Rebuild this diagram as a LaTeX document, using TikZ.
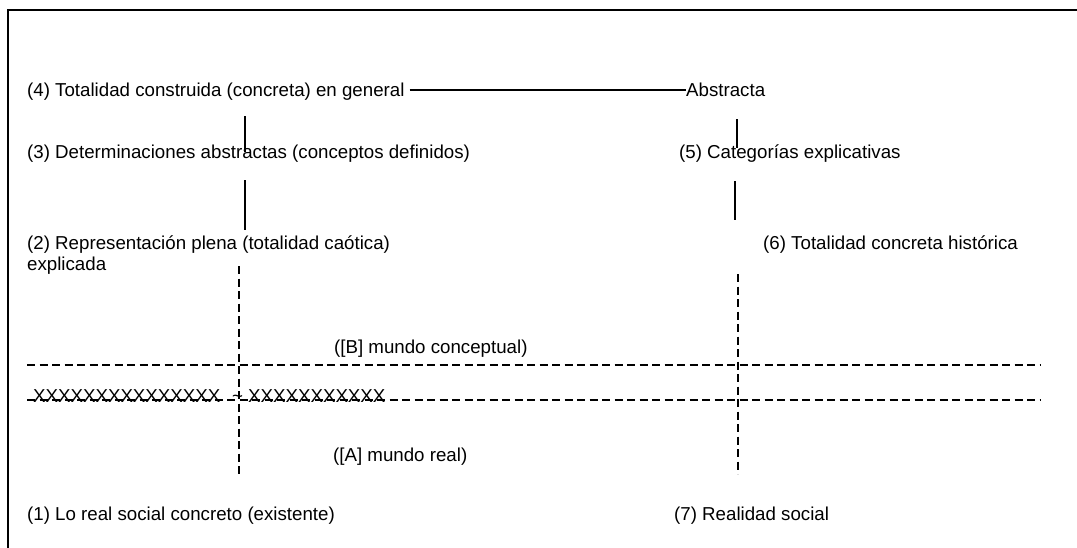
\documentclass[tikz,border=0pt]{standalone}
\usepackage{fontspec}
\setmainfont{Liberation Sans}
\begin{document}
\begin{tikzpicture}[x=1pt,y=-1pt,
  lbl/.style={inner sep=0pt,anchor=base west,font=\fontsize{18.7}{21}\selectfont},
  solidline/.style={draw=black,line width=1.2pt},
  dashline/.style={draw=black,line width=1.2pt,dash pattern=on 8pt off 4.5pt},
  framel/.style={draw=black,line width=1.4pt}]
\useasboundingbox (0,0) rectangle (1077,547);
\fill[white] (0,0) rectangle (1077,547);
% frame
\coordinate (fbl) at (8,548);
\coordinate (ftl) at (8,10);
\coordinate (ftr) at (1078,10);
\draw[framel] (fbl) -- (ftl) -- (ftr);

% texts
\node[lbl] (n4) at (27,96) {(4) Totalidad construida (concreta) en general};
\node[lbl] (abs) at (686,96) {Abstracta};
\node[lbl] (n3) at (27,158) {(3) Determinaciones abstractas (conceptos definidos)};
\node[lbl] (n5) at (679,158) {(5) Categorías explicativas};
\node[lbl] (n2) at (27,249) {(2) Representación plena (totalidad caótica)};
\node[lbl] (n2b) at (27,270) {explicada};
\node[lbl] (n6) at (763,249) {(6) Totalidad concreta histórica};
\node[lbl] (nB) at (334,353) {([B] mundo conceptual)};
\node[lbl] (nA) at (333,461) {([A] mundo real)};
\node[lbl] (n1) at (27,520) {(1) Lo real social concreto (existente)};
\node[lbl] (n7) at (674,520) {(7) Realidad social};

% long rule between (4) and Abstracta
\draw[line width=1.1pt] ([xshift=5pt,yshift=6pt]n4.base east) -- ([yshift=6pt]abs.base west);

% solid vertical segments
\coordinate (la1) at (245,116);
\coordinate (la2) at (245,152);
\coordinate (lb1) at (245,180);
\coordinate (lb2) at (245,230);
\coordinate (ra1) at (737,119);
\coordinate (ra2) at (737,148);
\coordinate (rb1) at (735,181);
\coordinate (rb2) at (735,220);
\draw[solidline] (la1) -- (la2);
\draw[solidline] (lb1) -- (lb2);
\draw[solidline] (ra1) -- (ra2);
\draw[solidline] (rb1) -- (rb2);

% dashed lines
\coordinate (h1a) at (27,365);
\coordinate (h1b) at (1040,365);
\coordinate (h2a) at (27,400);
\coordinate (h2b) at (1040,400);
\coordinate (v1a) at (239,266);
\coordinate (v1b) at (239,476);
\coordinate (v2a) at (738,274);
\coordinate (v2b) at (738,474);
\draw[dashline] (h1a) -- (h1b);
\draw[dashline] (h2a) -- (h2b);
\draw[dashline] (v1a) -- (v1b);
\draw[dashline] (v2a) -- (v2b);

% crossed-out row
\node[lbl] (xa) at (33,402) {XXXXXXXXXXXXXXX};
\node[lbl] (tl) at (232,402) {\textasciitilde};
\node[lbl] (xb) at (248,402) {XXXXXXXXXXX};
\end{tikzpicture}
\end{document}
